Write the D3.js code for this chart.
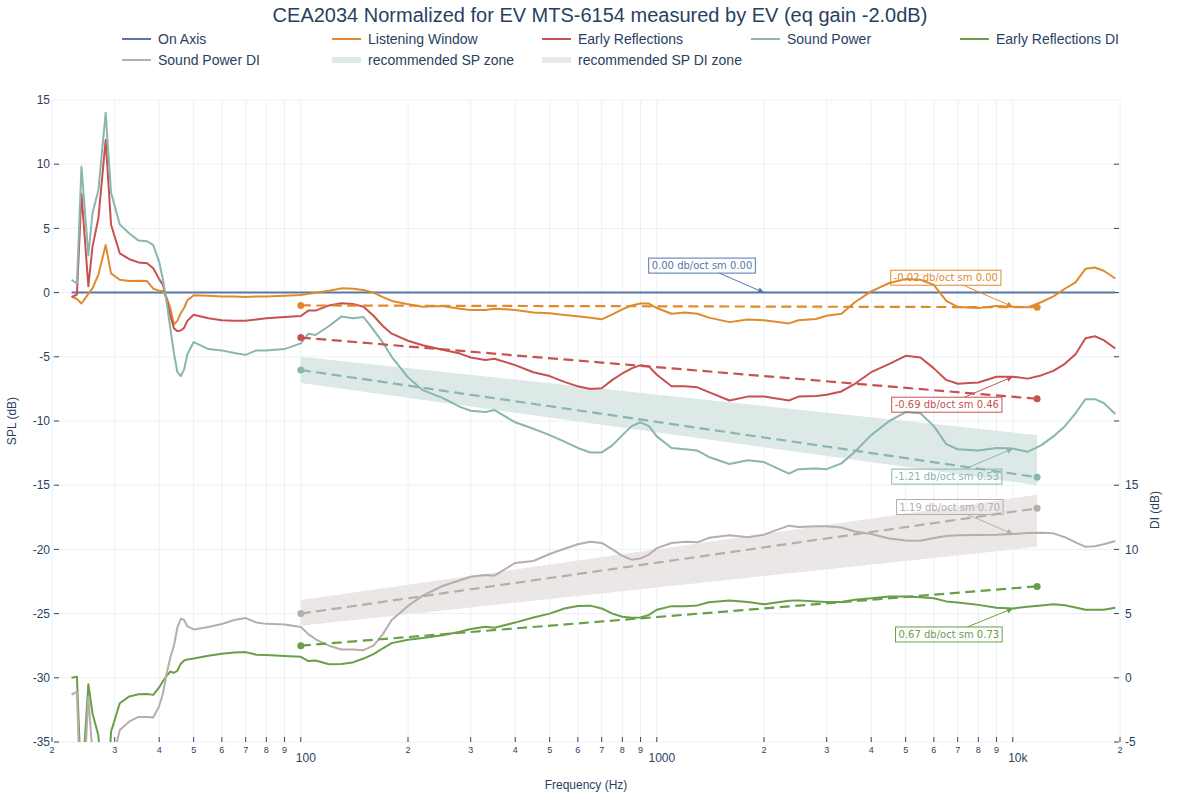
<!DOCTYPE html>
<html lang="en">
<head>
<meta charset="UTF-8">
<title>CEA2034 EV MTS-6154</title>
<script src="https://d3js.org/d3.v7.min.js"></script>
<style>
  body { margin: 0; background: #fff; }
  text { font-family: "Liberation Sans", Arial, sans-serif; fill: #2a3f5f; }
  .grid line { stroke: #ebf0f8; stroke-width: 1; }
  .tick-mark { stroke: #444; stroke-width: 1; }
  .note text { font-family: "DejaVu Sans", Verdana, sans-serif; font-size: 10px; }
</style>
</head>
<body>
<script>
// frequencies (Hz) shared by all measured curves
const freq = [22.7, 23.5, 24.2, 25.3, 26, 27, 28.3, 29.3, 31, 33,
  35, 37, 38.5, 40, 41, 42, 43, 44, 45, 46,
  47, 48, 50, 55, 60, 65, 70, 75, 80, 90,
  100, 105, 110, 120, 130, 140, 150, 160, 170, 180,
  200, 220, 250, 280, 300, 330, 350, 400, 450, 500,
  550, 600, 650, 700, 750, 800, 850, 900, 950, 1000,
  1100, 1200, 1300, 1400, 1600, 1800, 2000, 2350, 2500, 2800,
  3000, 3300, 3600, 4000, 4500, 5000, 5500, 6000, 6500, 7000,
  8000, 9000, 10000, 11000, 12000, 13000, 14000, 15000, 16000, 17000,
  18000, 19400];

const onAxisFreq = [22.7, 19400];
const onAxis = [0, 0];

const listeningWindow = [-0.3, -0.5, -0.85, -0.1, 0.35, 1.4, 3.7, 1.5, 1.0, 0.9,
  0.92, 0.9, 0.3, 0.15, 0.1, -0.4, -1.2, -2.5, -2.2, -1.6,
  -1.2, -0.6, -0.2, -0.25, -0.3, -0.3, -0.35, -0.3, -0.3, -0.25,
  -0.18, -0.1, -0.02, 0.15, 0.33, 0.3, 0.2, 0.0, -0.35, -0.65,
  -0.9, -1.1, -1.05, -1.25, -1.35, -1.35, -1.25, -1.35, -1.55, -1.6,
  -1.75, -1.85, -1.95, -2.08, -1.7, -1.3, -1.0, -0.85, -0.85, -1.2,
  -1.65, -1.55, -1.65, -1.95, -2.3, -2.1, -2.15, -2.4, -2.15, -2.05,
  -1.8, -1.65, -0.75, 0.1, 0.75, 1.05, 1.0, 0.6, -0.65, -1.12,
  -1.2, -1.05, -1.1, -1.15, -0.75, -0.3, 0.3, 0.8, 1.85, 1.95,
  1.7, 1.1];

const earlyReflections = [-0.35, -0.15, 7.7, 0.5, 3.6, 5.8, 11.9, 5.3, 3.06, 2.6,
  2.35, 2.28, 1.9, 1.05, 0.6, -0.6, -1.8, -2.78, -3.0, -2.95,
  -2.75, -2.2, -1.72, -2.0, -2.15, -2.2, -2.2, -2.1, -2.0, -1.9,
  -1.82, -1.4, -1.4, -1.0, -0.83, -0.88, -1.1, -1.8, -2.6, -3.2,
  -3.75, -4.1, -4.45, -4.75, -5.05, -5.25, -5.15, -5.65, -6.2, -6.5,
  -6.95, -7.3, -7.5, -7.45, -6.8, -6.3, -5.9, -5.65, -5.75, -6.4,
  -7.3, -7.3, -7.38, -7.75, -8.4, -8.1, -8.1, -8.4, -8.1, -8.05,
  -7.95, -7.7, -7.1, -6.2, -5.55, -4.92, -5.05, -5.9, -6.8, -7.1,
  -7.0, -6.55, -6.55, -6.7, -6.45, -6.1, -5.55, -4.8, -3.55, -3.4,
  -3.7, -4.35];

const soundPower = [1.0, 0.7, 9.8, 2.9, 6.2, 8.0, 14.0, 7.8, 5.3, 4.6,
  4.05, 4.0, 3.7, 2.4, 1.0, -0.8, -2.8, -4.7, -6.2, -6.5,
  -6.0, -4.8, -3.85, -4.4, -4.5, -4.7, -4.85, -4.5, -4.5, -4.4,
  -3.95, -3.2, -3.3, -2.6, -1.87, -2.0, -1.9, -2.9, -3.9, -5.0,
  -6.6, -7.6, -8.2, -8.9, -9.2, -9.3, -9.15, -10.1, -10.6, -11.1,
  -11.6, -12.1, -12.45, -12.45, -11.9, -11.1, -10.4, -10.1, -10.4, -11.2,
  -12.1, -12.2, -12.3, -12.8, -13.35, -13.05, -13.2, -14.1, -13.75, -13.7,
  -13.75, -13.3, -12.4, -11.1, -10.0, -9.3, -9.4, -10.4, -11.8, -12.2,
  -12.3, -12.1, -12.15, -12.4, -11.9, -11.2, -10.4, -9.4, -8.3, -8.3,
  -8.6, -9.45];

const earlyReflectionsDI = [0.0, 0.08, -9, -0.5, -2.8, -4.5, -12, -4.2, -1.98, -1.45,
  -1.28, -1.27, -1.33, -0.75, -0.25, 0.15, 0.49, 0.38, 0.55, 1.1,
  1.35, 1.42, 1.5, 1.72, 1.88, 1.97, 2.0, 1.8, 1.77, 1.7,
  1.63, 1.3, 1.35, 1.05, 1.08, 1.2, 1.5, 1.85, 2.3, 2.7,
  2.97, 3.1, 3.32, 3.59, 3.8, 3.97, 3.9, 4.3, 4.7, 5.0,
  5.4, 5.6, 5.62, 5.4, 5.0, 4.75, 4.68, 4.7, 4.9, 5.3,
  5.58, 5.58, 5.64, 5.88, 6.02, 5.9, 5.72, 6.0, 6.03, 5.95,
  5.9, 5.9, 6.08, 6.2, 6.33, 6.33, 6.27, 6.2, 5.95, 5.86,
  5.68, 5.45, 5.4, 5.53, 5.64, 5.72, 5.65, 5.48, 5.3, 5.3,
  5.3, 5.45];

const soundPowerDI = [-1.3, -1.1, -12, -1.5, -6, -12, -15, -7, -4.06, -3.4,
  -3.05, -3.05, -3.1, -2.2, -1.2, 0.35, 1.6, 2.5, 3.9, 4.6,
  4.5, 4.0, 3.77, 3.95, 4.19, 4.5, 4.65, 4.3, 4.2, 4.15,
  3.95, 3.4, 3.0, 2.5, 2.2, 2.2, 2.15, 2.5, 3.4, 4.5,
  5.6, 6.4, 7.15, 7.6, 7.87, 8.0, 7.95, 8.95, 9.1, 9.64,
  10.05, 10.4, 10.6, 10.5, 10.0, 9.5, 9.2, 9.3, 9.6, 10.1,
  10.5, 10.6, 10.55, 10.9, 11.1, 10.95, 11.15, 11.85, 11.75, 11.8,
  11.8, 11.7, 11.4, 11.2, 10.85, 10.7, 10.68, 10.88, 11.05, 11.1,
  11.13, 11.15, 11.2, 11.28, 11.3, 11.25, 10.95, 10.55, 10.2, 10.25,
  10.4, 10.65];

// slope fits, 100 Hz .. ~12 kHz
const fitFreq = [100, 11700];
const lwFit = [-1.0, -1.14];
const erFit = [-3.5, -8.27];
const spFit = [-6.03, -14.38];
const spdiFit = [5.0, 13.2];
const erdiFit = [2.5, 7.12];

// recommended zones (upper / lower edge)
const spZoneHi = [-5.0, -11.1];
const spZoneLo = [-7.05, -15.0];
const spdiZoneHi = [6.05, 14.25];
const spdiZoneLo = [4.05, 10.2];

const splTicks = [15, 10, 5, 0, -5, -10, -15, -20, -25, -30, -35];
const diTicks = [-5, 0, 5, 10, 15];
const diBlankTicks = [20, 25, 30, 35, 40];
const xMajorTicks = [100, 1000, 10000];
const xMajorLabels = ["100", "1000", "10k"];

const col = {
  on: "#5876a8", lw: "#e08a2c", er: "#c8514f", sp: "#89b6ae",
  erdi: "#6a9e47", spdi: "#b7aeab", spZone: "#dce9e7", spdiZone: "#eae7e6"
};

const width = 1200, height = 800;
const pL = 52, pR = 1120, pT = 100, pB = 742;

const x = d3.scaleLog().domain([20, 20000]).range([pL, pR]);
const y = d3.scaleLinear().domain([-35, 15]).range([pB, pT]);
const yDI = d3.scaleLinear().domain([-5, 45]).range([pB, pT]);

const svg = d3.select("body").append("svg")
  .attr("width", width).attr("height", height);

svg.append("defs").append("clipPath").attr("id", "plot")
  .append("rect").attr("x", pL).attr("y", pT)
  .attr("width", pR - pL).attr("height", pB - pT);

// grid
const grid = svg.append("g").attr("class", "grid");
grid.selectAll(".v").data(x.ticks()).join("line").attr("class", "v")
  .attr("x1", d => x(d)).attr("x2", d => x(d)).attr("y1", pT).attr("y2", pB);
grid.selectAll(".h").data(splTicks).join("line").attr("class", "h")
  .attr("x1", pL).attr("x2", pR).attr("y1", d => y(d)).attr("y2", d => y(d));

// x axis ticks + labels
const xa = svg.append("g");
xa.selectAll("line").data(x.ticks()).join("line").attr("class", "tick-mark")
  .attr("x1", d => x(d)).attr("x2", d => x(d)).attr("y1", pB - 5).attr("y2", pB);
x.ticks().forEach(d => {
  const i = xMajorTicks.indexOf(d);
  if (i >= 0) {
    xa.append("text").attr("x", x(d) + 5).attr("y", 762)
      .attr("text-anchor", "middle").style("font-size", "12px").text(xMajorLabels[i]);
  } else {
    const digit = Math.round(d / Math.pow(10, Math.floor(Math.log10(d) + 1e-9)));
    xa.append("text").attr("x", x(d)).attr("y", 753)
      .attr("text-anchor", "middle").style("font-size", "9px").text(digit);
  }
});
svg.append("text").attr("x", (pL + pR) / 2).attr("y", 789)
  .attr("text-anchor", "middle").style("font-size", "12px").text("Frequency (Hz)");

// left SPL axis
const ya = svg.append("g");
ya.selectAll("line").data(splTicks.filter(d => d < 15)).join("line").attr("class", "tick-mark")
  .attr("x1", pL + 2).attr("x2", pL + 7).attr("y1", d => y(d)).attr("y2", d => y(d));
ya.selectAll("text").data(splTicks).join("text")
  .attr("x", 50).attr("y", d => y(d)).attr("dy", "0.35em")
  .attr("text-anchor", "end").style("font-size", "12px").text(d => d);
svg.append("text").attr("transform", "translate(16,421) rotate(-90)")
  .attr("text-anchor", "middle").style("font-size", "12px").text("SPL (dB)");

// right DI axis
const yb = svg.append("g");
yb.selectAll("line").data(diTicks.concat(diBlankTicks)).join("line").attr("class", "tick-mark")
  .attr("x1", pR - 6).attr("x2", pR - 1).attr("y1", d => yDI(d)).attr("y2", d => yDI(d));
yb.selectAll("text").data(diTicks).join("text")
  .attr("x", 1125).attr("y", d => yDI(d)).attr("dy", "0.35em")
  .attr("text-anchor", "start").style("font-size", "12px").text(d => d);
svg.append("text").attr("transform", "translate(1159,510) rotate(-90)")
  .attr("text-anchor", "middle").style("font-size", "12px").text("DI (dB)");

const plot = svg.append("g").attr("clip-path", "url(#plot)");

// zones
const zone = (hi, lo, sc) => d3.area()
  .x((d, i) => x(fitFreq[i])).y0((d, i) => sc(lo[i])).y1((d, i) => sc(hi[i]))(fitFreq);
plot.append("path").attr("d", zone(spZoneHi, spZoneLo, y)).attr("fill", col.spZone);
plot.append("path").attr("d", zone(spdiZoneHi, spdiZoneLo, yDI)).attr("fill", col.spdiZone);

// curves
const curve = (fs, vals, sc) => d3.line().x((d, i) => x(fs[i])).y(d => sc(d))(vals);
const series = [
  [onAxisFreq, onAxis, y, col.on],
  [freq, listeningWindow, y, col.lw],
  [freq, earlyReflections, y, col.er],
  [freq, soundPower, y, col.sp],
  [freq, earlyReflectionsDI, yDI, col.erdi],
  [freq, soundPowerDI, yDI, col.spdi]
];
series.forEach(([fs, vals, sc, c]) => {
  plot.append("path").attr("d", curve(fs, vals, sc))
    .attr("fill", "none").attr("stroke", c).attr("stroke-width", 2)
    .attr("stroke-linejoin", "round");
});

// fit lines with end markers
const fits = [
  [lwFit, y, col.lw], [erFit, y, col.er], [spFit, y, col.sp],
  [spdiFit, yDI, col.spdi], [erdiFit, yDI, col.erdi]
];
fits.forEach(([vals, sc, c]) => {
  plot.append("path").attr("d", curve(fitFreq, vals, sc))
    .attr("fill", "none").attr("stroke", c).attr("stroke-width", 2.2)
    .attr("stroke-dasharray", "10,5.5");
  plot.selectAll(null).data(vals).join("circle")
    .attr("cx", (d, i) => x(fitFreq[i])).attr("cy", d => sc(d))
    .attr("r", 3.5).attr("fill", c);
});

// annotations
const at = (arr, f) => arr[freq.indexOf(f)];
const notes = [
  { text: "0.00 db/oct sm 0.00", c: col.on, f: 2000, py: y(onAxis[0]), dx: -62, dy: -27 },
  { text: "-0.02 db/oct sm 0.00", c: col.lw, f: 10000, py: y(at(listeningWindow, 10000)), dx: -67, dy: -29 },
  { text: "-0.69 db/oct sm 0.46", c: col.er, f: 10000, py: y(at(earlyReflections, 10000)), dx: -66, dy: 28 },
  { text: "-1.21 db/oct sm 0.53", c: col.sp, f: 10000, py: y(at(soundPower, 10000)), dx: -66, dy: 28 },
  { text: "1.19 db/oct sm 0.70", c: col.spdi, f: 10000, py: yDI(at(soundPowerDI, 10000)), dx: -63, dy: -27 },
  { text: "0.67 db/oct sm 0.73", c: col.erdi, f: 10000, py: yDI(at(earlyReflectionsDI, 10000)), dx: -64, dy: 26 }
];
const defs = svg.select("defs");
const ng = svg.append("g").attr("class", "note");
notes.forEach((n, k) => {
  defs.append("marker").attr("id", "arr" + k)
    .attr("viewBox", "0 0 10 10").attr("refX", 10).attr("refY", 5)
    .attr("markerUnits", "userSpaceOnUse").attr("markerWidth", 7).attr("markerHeight", 6)
    .attr("orient", "auto")
    .append("path").attr("d", "M0,0 L10,5 L0,10 z").attr("fill", n.c);
  const px = x(n.f), py = n.py;
  const cx = px + n.dx, cy = py + n.dy;
  const t = ng.append("text").attr("x", cx).attr("y", cy).attr("dy", "0.36em")
    .attr("text-anchor", "middle").style("fill", n.c).text(n.text);
  const w = t.node().getComputedTextLength() + 6, h = 15;
  ng.insert("rect", "text").attr("x", cx - w / 2).attr("y", cy - h / 2)
    .attr("width", w).attr("height", h).attr("fill", "none")
    .attr("stroke", n.c).attr("stroke-width", 1);
  const s = Math.min((w / 2) / Math.abs(px - cx), (h / 2) / Math.abs(py - cy));
  ng.append("line")
    .attr("x1", cx + s * (px - cx)).attr("y1", cy + s * (py - cy))
    .attr("x2", px).attr("y2", py)
    .attr("stroke", n.c).attr("stroke-width", 1)
    .attr("marker-end", "url(#arr" + k + ")");
});

// title
svg.append("text").attr("x", 600).attr("y", 22).attr("text-anchor", "middle")
  .style("font-size", "20px").text("CEA2034 Normalized for EV MTS-6154 measured by EV (eq gain -2.0dB)");

// legend
const legend = [
  ["On Axis", col.on, "line"], ["Listening Window", col.lw, "line"],
  ["Early Reflections", col.er, "line"], ["Sound Power", col.sp, "line"],
  ["Early Reflections DI", col.erdi, "line"], ["Sound Power DI", col.spdi, "line"],
  ["recommended SP zone", col.spZone, "zone"], ["recommended SP DI zone", col.spdiZone, "zone"]
];
const legCols = [122, 332, 542, 751, 960], legRows = [39, 60];
legend.forEach(([name, c, kind], i) => {
  const lx = legCols[i % 5], ly = legRows[Math.floor(i / 5)];
  if (kind === "line") {
    svg.append("line").attr("x1", lx).attr("x2", lx + 29).attr("y1", ly).attr("y2", ly)
      .attr("stroke", c).attr("stroke-width", 2);
  } else {
    svg.append("rect").attr("x", lx).attr("y", ly - 3).attr("width", 29).attr("height", 6)
      .attr("fill", c);
  }
  svg.append("text").attr("x", lx + 36).attr("y", ly).attr("dy", "0.35em")
    .style("font-size", "14px").text(name);
});
</script>
</body>
</html>
